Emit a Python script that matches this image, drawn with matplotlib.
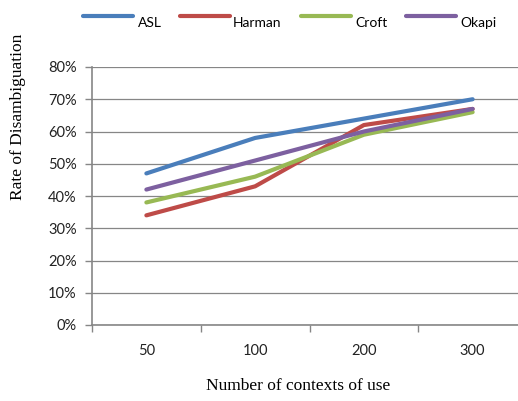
import matplotlib
matplotlib.use("Agg")
import matplotlib.pyplot as plt
from matplotlib.lines import Line2D
from matplotlib.ticker import FuncFormatter, FixedLocator

categories = ["50", "100", "200", "300"]
asl = [47, 58, 64, 70]
harman = [34, 43, 62, 67]
croft = [38, 46, 59, 66]
okapi = [42, 51, 60, 67]
series_names = ["ASL", "Harman", "Croft", "Okapi"]
colors = ["#4A7EBB", "#BE4B48", "#98B954", "#7D60A0"]

fig = plt.figure(figsize=(5.18, 4.01), dpi=100)
W, H = 518, 401
ax = fig.add_axes([92 / W, 1 - 325 / H, 435 / W, (325 - 67) / H])

x = list(range(len(categories)))
for name, vals, c in zip(series_names, [asl, harman, croft, okapi], colors):
    ax.plot(x, [v / 100 for v in vals], color=c, lw=3.0, label=name,
            solid_capstyle="round", solid_joinstyle="round")

ax.set_xlim(-0.5, len(categories) - 0.5)
ax.set_ylim(0, 0.8)
ax.set_yticks([i / 10 for i in range(9)])
ax.yaxis.set_major_formatter(FuncFormatter(lambda v, p: f"{v*100:.0f}%"))
ax.set_xticks(x)
ax.set_xticklabels(categories)
ax.xaxis.set_minor_locator(FixedLocator([i - 0.5 for i in range(len(categories) + 1)]))
ax.tick_params(axis="x", which="major", length=0, pad=14)
ax.tick_params(axis="x", which="minor", length=5, color="#868686", width=1)
ax.tick_params(axis="y", length=5, color="#868686", width=1, pad=6)
ax.grid(axis="y", color="#868686", lw=0.9)
ax.set_axisbelow(True)
for s in ["top", "right"]:
    ax.spines[s].set_visible(False)
for s in ["left", "bottom"]:
    ax.spines[s].set_color("#868686")
    ax.spines[s].set_linewidth(1.2)

for lab in ax.get_xticklabels() + ax.get_yticklabels():
    lab.set_fontfamily("Lato")
    lab.set_fontsize(10.5)
    lab.set_color("#222222")

fig.text(18 / W, 1 - 117 / H, "Rate of Disambiguation", rotation=90,
         ha="center", va="center", fontfamily="Liberation Serif", fontsize=12.5)
fig.text(298 / W, 1 - 386 / H, "Number of contexts of use", ha="center",
         va="center", fontfamily="Liberation Serif", fontsize=12.5)

# legend drawn manually (line above-left of label, as in the reference)
leg_line_x = [83, 180, 301, 406]
leg_text_x = [138, 233, 355, 460]
for name, c, lx, tx in zip(series_names, colors, leg_line_x, leg_text_x):
    fig.add_artist(Line2D([lx / W, (lx + 50) / W], [1 - 16 / H, 1 - 16 / H],
                          color=c, lw=3.0, solid_capstyle="round",
                          transform=fig.transFigure))
    fig.text(tx / W, 1 - 23 / H, name, ha="left", va="center",
             fontfamily="Lato", fontsize=10)

fig.savefig("out.png", dpi=100)
